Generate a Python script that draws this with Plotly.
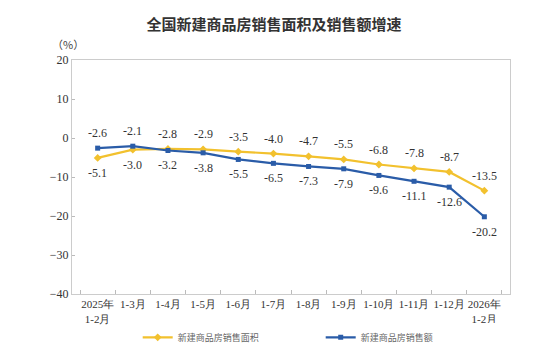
import plotly.graph_objects as go

categories = ["2025年<br>1-2月", "1-3月", "1-4月", "1-5月", "1-6月", "1-7月", "1-8月",
              "1-9月", "1-10月", "1-11月", "1-12月", "2026年<br>1-2月"]
area_growth = [-5.1, -3.0, -2.8, -2.9, -3.5, -4.0, -4.7, -5.5, -6.8, -7.8, -8.7, -13.5]
sales_growth = [-2.6, -2.1, -3.2, -3.8, -5.5, -6.5, -7.3, -7.9, -9.6, -11.1, -12.6, -20.2]
y_ticks = [20, 10, 0, -10, -20, -30, -40]

YELLOW = "#F2C12E"
BLUE = "#2A5CA8"
SERIF = "Times New Roman"

fig = go.Figure()
fig.add_trace(go.Scatter(x=categories, y=area_growth, name="新建商品房销售面积",
                         mode="lines+markers", line=dict(color=YELLOW, width=2.2),
                         marker=dict(symbol="diamond", size=6, color=YELLOW)))
fig.add_trace(go.Scatter(x=categories, y=sales_growth, name="新建商品房销售额",
                         mode="lines+markers", line=dict(color=BLUE, width=2.2),
                         marker=dict(symbol="square", size=5, color=BLUE)))

annotations = []
for c, a, s in zip(categories, area_growth, sales_growth):
    a_above = a >= s
    annotations.append(dict(x=c, y=a, text=f"{a:.1f}", showarrow=False,
                            yshift=15 if a_above else -15,
                            font=dict(family=SERIF, size=12, color="#333")))
    annotations.append(dict(x=c, y=s, text=f"{s:.1f}", showarrow=False,
                            yshift=-15 if a_above else 15,
                            font=dict(family=SERIF, size=12, color="#333")))

annotations.append(dict(xref="paper", yref="paper", x=-0.01, y=1.07, text="（%）",
                        showarrow=False, xanchor="center", yanchor="middle",
                        font=dict(family="Noto Sans CJK SC", size=11, color="#444")))

fig.update_layout(
    width=548, height=356,
    margin=dict(l=72, r=38, t=60, b=62, autoexpand=False),
    paper_bgcolor="white", plot_bgcolor="white",
    title=dict(text="<b>全国新建商品房销售面积及销售额增速</b>", x=0.5, xref="container",
               xanchor="center", y=0.93, yref="container", yanchor="middle",
               font=dict(family="Noto Sans CJK SC", size=15, color="#333")),
    showlegend=True,
    legend=dict(orientation="h", x=0.15, xanchor="left", y=-0.185, yanchor="middle",
                font=dict(family="Noto Sans CJK SC", size=9, color="#666"),
                entrywidth=138, entrywidthmode="pixels", itemwidth=30),
    annotations=annotations,
)
fig.update_xaxes(type="category", tickson="boundaries", ticks="inside", ticklen=4,
                 tickcolor="#bbb", showline=True, linecolor="#ccc", mirror=True,
                 showgrid=False, tickfont=dict(family=SERIF, size=11, color="#333"),
                 tickangle=0)
fig.update_yaxes(range=[-40, 20], tickvals=y_ticks, ticks="inside", ticklen=3,
                 tickcolor="#bbb", showline=True, linecolor="#ccc", mirror=True,
                 showgrid=False, zeroline=False,
                 tickfont=dict(family=SERIF, size=12, color="#333"))

fig.write_html("out.html", config={"displayModeBar": False},
               post_script="document.body.style.margin='0';document.body.style.overflow='hidden';")
